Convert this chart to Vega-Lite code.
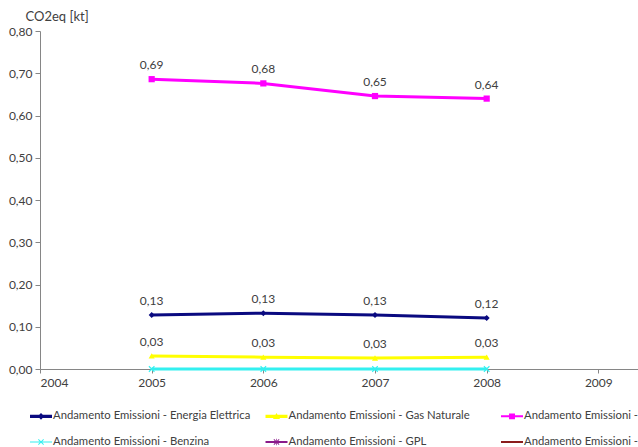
{
  "$schema": "https://vega.github.io/schema/vega-lite/v6.json",
  "width": 603,
  "height": 338,
  "autosize": {"type": "none"},
  "padding": {"left": 40, "top": 31, "right": 0, "bottom": 78},
  "background": "white",
  "config": {
    "locale": {"number": {"decimal": ",", "thousands": ".", "grouping": [3], "currency": ["", " €"]}},
    "font": "Lato",
    "view": {"stroke": null},
    "axis": {
      "domainColor": "#868686",
      "tickColor": "#868686",
      "labelColor": "#404040",
      "labelFont": "Lato",
      "labelFontSize": 12,
      "grid": false
    },
    "legend": {"labelFont": "Lato", "labelFontSize": 11.3, "labelColor": "#404040"}
  },
  "data": {
    "values": [
      {"year": 2005, "serie": "Andamento Emissioni - Energia Elettrica", "value": 0.128},
      {"year": 2006, "serie": "Andamento Emissioni - Energia Elettrica", "value": 0.132},
      {"year": 2007, "serie": "Andamento Emissioni - Energia Elettrica", "value": 0.128},
      {"year": 2008, "serie": "Andamento Emissioni - Energia Elettrica", "value": 0.121},
      {"year": 2005, "serie": "Andamento Emissioni - Gas Naturale", "value": 0.031},
      {"year": 2006, "serie": "Andamento Emissioni - Gas Naturale", "value": 0.028},
      {"year": 2007, "serie": "Andamento Emissioni - Gas Naturale", "value": 0.026},
      {"year": 2008, "serie": "Andamento Emissioni - Gas Naturale", "value": 0.028},
      {"year": 2005, "serie": "Andamento Emissioni - Gasolio", "value": 0.686},
      {"year": 2006, "serie": "Andamento Emissioni - Gasolio", "value": 0.676},
      {"year": 2007, "serie": "Andamento Emissioni - Gasolio", "value": 0.646},
      {"year": 2008, "serie": "Andamento Emissioni - Gasolio", "value": 0.64},
      {"year": 2005, "serie": "Andamento Emissioni - Benzina", "value": 0},
      {"year": 2006, "serie": "Andamento Emissioni - Benzina", "value": 0},
      {"year": 2007, "serie": "Andamento Emissioni - Benzina", "value": 0},
      {"year": 2008, "serie": "Andamento Emissioni - Benzina", "value": 0}
    ]
  },
  "encoding": {
    "x": {
      "field": "year",
      "type": "quantitative",
      "scale": {"domain": [2004, 2009.4], "nice": false, "zero": false},
      "axis": {"title": null, "values": [2004, 2005, 2006, 2007, 2008, 2009], "format": "d", "tickSize": 4, "labelPadding": 4}
    },
    "y": {
      "field": "value",
      "type": "quantitative",
      "scale": {"domain": [0, 0.8], "nice": false},
      "axis": {
        "title": "CO2eq [kt]",
        "titleAngle": 0,
        "titleAlign": "left",
        "titleBaseline": "middle",
        "titleX": -15,
        "titleY": -15,
        "titleFont": "Lato",
        "titleFontSize": 13,
        "titleFontWeight": "normal",
        "titleColor": "#404040",
        "values": [0, 0.1, 0.2, 0.3, 0.4, 0.5, 0.6, 0.7, 0.8],
        "format": ",.2f",
        "tickSize": 5,
        "labelPadding": 3
      }
    }
  },
  "layer": [
    {
      "mark": {"type": "line"},
      "encoding": {
        "color": {
          "field": "serie",
          "type": "nominal",
          "scale": {
            "domain": [
              "Andamento Emissioni - Energia Elettrica",
              "Andamento Emissioni - Gas Naturale",
              "Andamento Emissioni - Gasolio",
              "Andamento Emissioni - Benzina",
              "Andamento Emissioni - GPL",
              "Andamento Emissioni - Biomasse"
            ],
            "range": ["#0a0a80", "#ffff00", "#ff00ff", "#33f0f0", "#8a1a8a", "#8b1c1c"]
          },
          "legend": {
            "title": null,
            "orient": "none",
            "legendX": -10,
            "legendY": 374,
            "direction": "horizontal",
            "columns": 3,
            "gridAlign": "all",
            "columnPadding": 14.5,
            "rowPadding": 9,
            "symbolSize": 484,
            "symbolStrokeWidth": 0,
            "labelOffset": 1,
            "labelLimit": 400,
            "labelExpr": "datum.value == 'Andamento Emissioni - Gasolio' || datum.value == 'Andamento Emissioni - Biomasse' ? 'Andamento Emissioni -' : datum.label",
            "encode": {
              "symbols": {
                "update": {
                  "shape": {"signal": "['M-1,-0.14H1V0.14H-1Z M0,-0.3L0.3,0L0,0.3L-0.3,0Z', 'M-1,-0.14H1V0.14H-1Z M0,-0.3L0.32,0.25H-0.32Z', 'M-1,-0.09H1V0.09H-1Z M-0.27,-0.27H0.27V0.27H-0.27Z', 'M-1,-0.05H1V0.05H-1Z M-0.27,-0.21L-0.21,-0.27L0.27,0.21L0.21,0.27Z M0.21,-0.27L0.27,-0.21L-0.21,0.27L-0.27,0.21Z', 'M-1,-0.09H1V0.09H-1Z M-0.27,-0.21L-0.21,-0.27L0.27,0.21L0.21,0.27Z M0.21,-0.27L0.27,-0.21L-0.21,0.27L-0.27,0.21Z M-0.03,-0.3H0.03V0.3H-0.03Z', 'M-1,-0.09H1V0.09H-1Z'][indexof(['Andamento Emissioni - Energia Elettrica', 'Andamento Emissioni - Gas Naturale', 'Andamento Emissioni - Gasolio', 'Andamento Emissioni - Benzina', 'Andamento Emissioni - GPL', 'Andamento Emissioni - Biomasse'], datum.value)]"},
                  "fill": {"scale": "color", "field": "value"},
                  "strokeWidth": {"value": 0},
                  "opacity": {"value": 1}
                }
              }
            }
          }
        },
        "strokeWidth": {
          "field": "serie",
          "type": "nominal",
          "scale": {
            "domain": [
              "Andamento Emissioni - Energia Elettrica",
              "Andamento Emissioni - Gas Naturale",
              "Andamento Emissioni - Gasolio",
              "Andamento Emissioni - Benzina"
            ],
            "range": [3, 3, 2, 1.2]
          },
          "legend": null
        }
      }
    },
    {
      "mark": {"type": "point", "filled": true, "opacity": 1},
      "encoding": {
        "color": {"field": "serie", "type": "nominal", "legend": null},
        "shape": {
          "field": "serie",
          "type": "nominal",
          "scale": {
            "domain": [
              "Andamento Emissioni - Energia Elettrica",
              "Andamento Emissioni - Gas Naturale",
              "Andamento Emissioni - Gasolio",
              "Andamento Emissioni - Benzina"
            ],
            "range": [
              "diamond",
              "triangle-up",
              "square",
              "M-1,-0.75L-0.75,-1L1,0.75L0.75,1Z M0.75,-1L1,-0.75L-0.75,1L-1,0.75Z"
            ]
          },
          "legend": null
        },
        "size": {
          "field": "serie",
          "type": "nominal",
          "scale": {
            "domain": [
              "Andamento Emissioni - Energia Elettrica",
              "Andamento Emissioni - Gas Naturale",
              "Andamento Emissioni - Gasolio",
              "Andamento Emissioni - Benzina"
            ],
            "range": [36, 40, 40, 36]
          },
          "legend": null
        }
      }
    },
    {
      "transform": [{"filter": "datum.value > 0.005"}],
      "mark": {"type": "text", "dy": -14, "fontSize": 12, "font": "Lato", "color": "#404040", "baseline": "middle"},
      "encoding": {
        "text": {"field": "value", "type": "quantitative", "format": ",.2f"}
      }
    }
  ]
}
